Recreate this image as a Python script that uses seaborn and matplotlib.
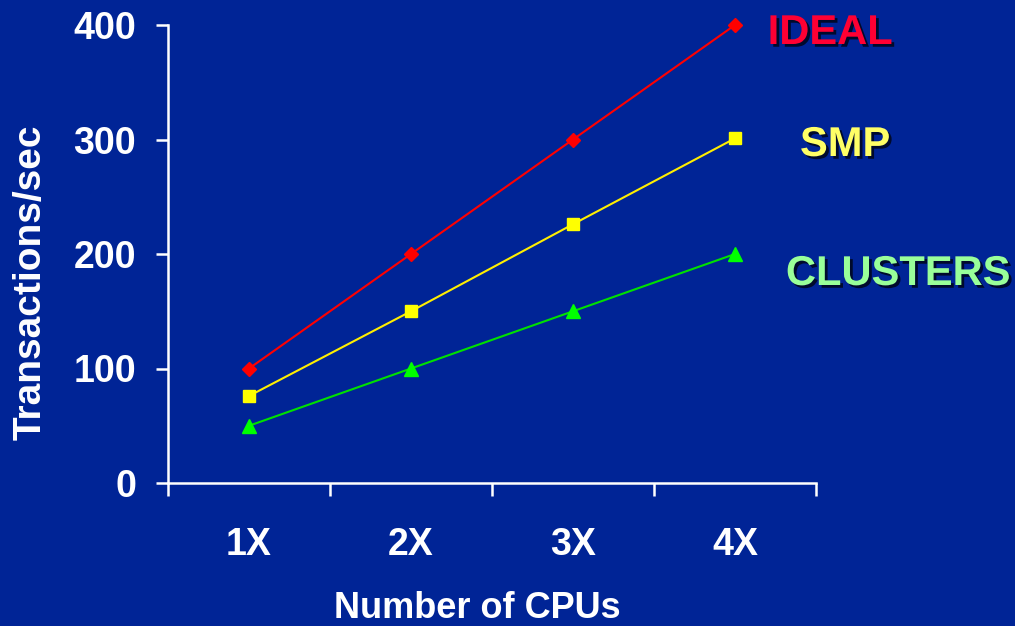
import matplotlib
matplotlib.use("Agg")
import matplotlib.pyplot as plt
import matplotlib.patheffects as pe
import seaborn as sns
import pandas as pd

categories = ["1X", "2X", "3X", "4X"]
ideal = [100, 200, 300, 400]
smp = [76, 150, 226, 301]
clusters = [50, 100, 150, 200]
series_names = ["IDEAL", "SMP", "CLUSTERS"]
yticks = [0, 100, 200, 300, 400]

BG = "#002496"
line_colors = {"IDEAL": "#ff0000", "SMP": "#ffee00", "CLUSTERS": "#00e000"}
marker_colors = {"IDEAL": "#ff0000", "SMP": "#ffff00", "CLUSTERS": "#00ff00"}
label_colors = {"IDEAL": "#ff0033", "SMP": "#ffff66", "CLUSTERS": "#99ff99"}
markers = {"IDEAL": "D", "SMP": "s", "CLUSTERS": "^"}
msizes = {"IDEAL": 7, "SMP": 9, "CLUSTERS": 10}

sns.set_theme(style="white")
plt.rcParams["font.family"] = ["Liberation Sans", "DejaVu Sans"]

rows = []
for name, vals in zip(series_names, [ideal, smp, clusters]):
    for i, v in enumerate(vals):
        rows.append({"x": i, "cat": categories[i], "value": v, "series": name})
df = pd.DataFrame(rows)

fig = plt.figure(figsize=(10.15, 6.26), dpi=100, facecolor=BG)
ax = fig.add_axes([168/1015, 1-483/626, (816-168)/1015, (483-25)/626])
ax.set_facecolor(BG)

sns.lineplot(data=df, x="x", y="value", hue="series", palette=line_colors,
             hue_order=series_names, legend=False, ax=ax, linewidth=1.5)
for name in series_names:
    sub = df[df.series == name]
    ax.plot(sub["x"], sub["value"], linestyle="none", marker=markers[name],
            markersize=msizes[name], color=marker_colors[name],
            markeredgecolor=marker_colors[name], zorder=5, clip_on=False)
for l in ax.lines:
    l.set_clip_on(False)

ax.set_xlim(-0.5, 3.5)
ax.set_ylim(0, 400)
ax.set_xticks([-0.5, 0.5, 1.5, 2.5, 3.5])
ax.set_xticklabels([])
ax.set_xticks(range(len(categories)), minor=True)
ax.set_xticklabels(categories, minor=True)
ax.set_yticks(yticks)
ax.set_yticklabels([str(t) for t in yticks])

for s in ["top", "right"]:
    ax.spines[s].set_visible(False)
for s in ["left", "bottom"]:
    ax.spines[s].set_color("white")
    ax.spines[s].set_linewidth(1.8)

ax.tick_params(axis="x", which="major", direction="out", length=9, width=1.8,
               color="white", bottom=True)
ax.tick_params(axis="x", which="minor", length=0, pad=32, labelsize=27,
               labelcolor="white")
ax.tick_params(axis="y", which="major", direction="out", length=9, width=1.8,
               color="white", left=True, labelsize=27, labelcolor="white", pad=14)
for lbl in ax.get_xticklabels(minor=True) + ax.get_yticklabels():
    lbl.set_fontweight("bold")

ax.set_xlabel("Number of CPUs", fontsize=26, fontweight="bold", color="white")
ax.set_ylabel("Transactions/sec", fontsize=28, fontweight="bold", color="white")
ax.xaxis.set_label_coords((477-168)/648, -(608-483)/458)
ax.xaxis.label.set_va("center")
ax.yaxis.set_label_coords((31-168)/648, (483-282)/458)
ax.yaxis.label.set_va("center")

shadow = [pe.withSimplePatchShadow(offset=(2, -2), shadow_rgbFace="black", alpha=0.7)]
label_pos = {"IDEAL": (830/1015, 1-33/626), "SMP": (845/1015, 1-145/626),
             "CLUSTERS": (898/1015, 1-274/626)}
for name in series_names:
    fx, fy = label_pos[name]
    fig.text(fx, fy, name, ha="center", va="center", fontsize=30,
             fontweight="bold", color=label_colors[name], path_effects=shadow)

fig.savefig("out.png", dpi=100, facecolor=BG)
